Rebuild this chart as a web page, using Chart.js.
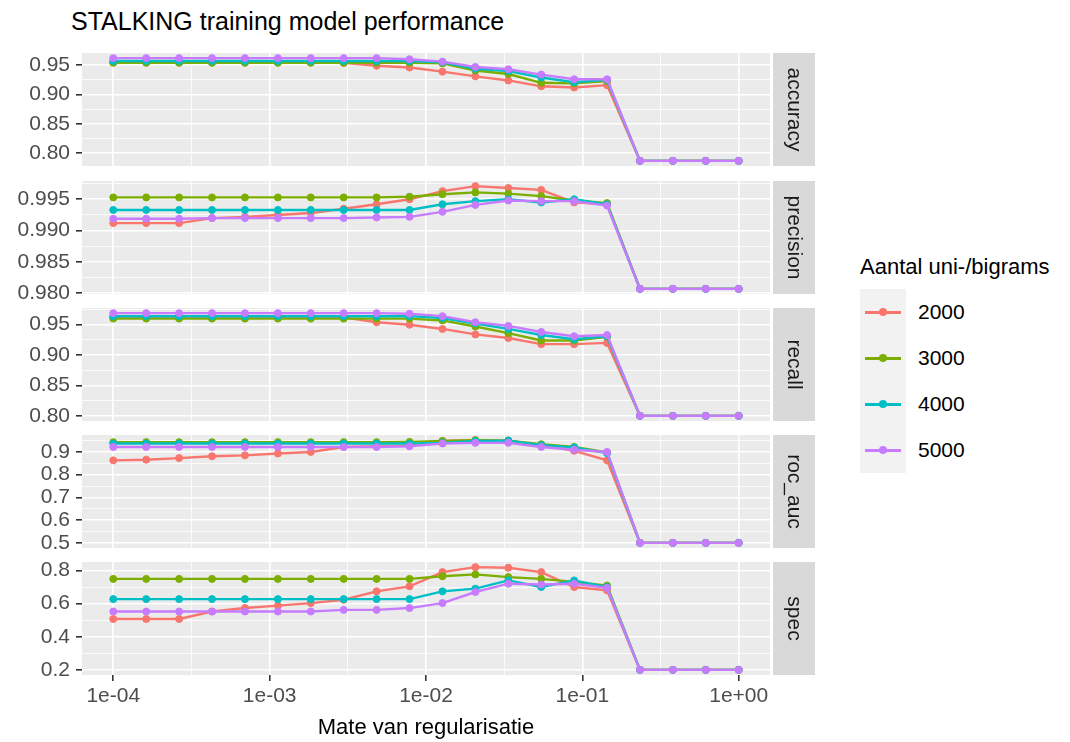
<!DOCTYPE html>
<html>
<head>
<meta charset="utf-8">
<title>STALKING training model performance</title>
<script src="https://cdn.jsdelivr.net/npm/chart.js@4.4.1/dist/chart.umd.min.js"></script>
<style>
  body { margin: 0; background: #fff; font-family: "Liberation Sans", Arial, sans-serif; }
  #wrap { position: relative; width: 1070px; height: 742px; overflow: hidden; background: #fff; }
  #wrap canvas { position: absolute; left: 0; }
  #title { position: absolute; left: 71px; top: 7px; font-size: 25px; color: #000; white-space: nowrap; }
  #legendTitle { position: absolute; left: 860px; top: 254px; font-size: 22px; color: #000; white-space: nowrap; }
  #legendKeys { position: absolute; left: 860px; top: 289px; width: 46px; height: 184px; background: #F2F2F2; }
  .key { position: absolute; left: 0; width: 200px; height: 30px; }
  .key .ln { position: absolute; left: 5px; top: 14px; width: 36px; height: 2.5px; }
  .key .dt { position: absolute; left: 19px; top: 11px; width: 8px; height: 8px; border-radius: 50%; }
  .key .tx { position: absolute; left: 58px; top: 2px; font-size: 21px; line-height: 26px; color: #000; }
</style>
</head>
<body>
<div id="wrap">
  <div id="title">STALKING training model performance</div>
  <div id="legendTitle">Aantal uni-/bigrams</div>
  <div id="legendKeys"></div>
</div>
<script>
// regularisation strengths (x axis, log scale)
const lambdas = [1.000e-4, 1.624e-4, 2.637e-4, 4.281e-4, 6.952e-4, 1.129e-3, 1.833e-3, 2.976e-3,
  4.833e-3, 7.848e-3, 1.274e-2, 2.069e-2, 3.360e-2, 5.456e-2, 8.859e-2, 1.438e-1,
  2.336e-1, 3.793e-1, 6.158e-1, 1.000];
const groups = ['2000', '3000', '4000', '5000'];
const groupColors = ['#F8766D', '#7CAE00', '#00BFC4', '#C77CFF'];
const xTickValues = [1e-4, 1e-3, 1e-2, 1e-1, 1];
const xTickLabels = ['1e-04', '1e-03', '1e-02', '1e-01', '1e+00'];

// rows: 2000, 3000, 4000, 5000
const accuracy = [
  [0.955, 0.955, 0.955, 0.955, 0.955, 0.955, 0.955, 0.954, 0.949, 0.946, 0.939, 0.931, 0.924, 0.914, 0.912, 0.916, 0.787, 0.787, 0.787, 0.787],
  [0.954, 0.954, 0.954, 0.954, 0.954, 0.954, 0.954, 0.954, 0.954, 0.954, 0.953, 0.941, 0.935, 0.920, 0.919, 0.923, 0.787, 0.787, 0.787, 0.787],
  [0.957, 0.957, 0.957, 0.957, 0.957, 0.957, 0.957, 0.957, 0.957, 0.957, 0.955, 0.944, 0.940, 0.929, 0.921, 0.925, 0.787, 0.787, 0.787, 0.787],
  [0.962, 0.962, 0.962, 0.962, 0.962, 0.962, 0.962, 0.962, 0.962, 0.960, 0.956, 0.947, 0.943, 0.934, 0.926, 0.926, 0.787, 0.787, 0.787, 0.787]
];
const precision = [
  [0.9912, 0.9912, 0.9912, 0.9920, 0.9922, 0.9925, 0.9928, 0.9935, 0.9942, 0.9950, 0.9963, 0.9971, 0.9968, 0.9965, 0.9945, 0.9942, 0.9807, 0.9807, 0.9807, 0.9807],
  [0.9953, 0.9953, 0.9953, 0.9953, 0.9953, 0.9953, 0.9953, 0.9953, 0.9953, 0.9954, 0.9958, 0.9961, 0.9959, 0.9955, 0.9948, 0.9944, 0.9807, 0.9807, 0.9807, 0.9807],
  [0.9933, 0.9933, 0.9933, 0.9933, 0.9933, 0.9933, 0.9933, 0.9933, 0.9933, 0.9933, 0.9942, 0.9947, 0.9950, 0.9945, 0.9950, 0.9942, 0.9807, 0.9807, 0.9807, 0.9807],
  [0.9919, 0.9919, 0.9919, 0.9920, 0.9920, 0.9920, 0.9920, 0.9920, 0.9921, 0.9922, 0.9930, 0.9941, 0.9948, 0.9947, 0.9947, 0.9940, 0.9807, 0.9807, 0.9807, 0.9807]
];
const recall = [
  [0.962, 0.962, 0.962, 0.962, 0.962, 0.962, 0.962, 0.962, 0.954, 0.950, 0.943, 0.934, 0.928, 0.918, 0.918, 0.920, 0.800, 0.800, 0.800, 0.800],
  [0.960, 0.960, 0.960, 0.960, 0.960, 0.960, 0.960, 0.960, 0.960, 0.960, 0.957, 0.947, 0.936, 0.924, 0.924, 0.930, 0.800, 0.800, 0.800, 0.800],
  [0.964, 0.964, 0.964, 0.964, 0.964, 0.964, 0.964, 0.964, 0.964, 0.964, 0.961, 0.952, 0.943, 0.933, 0.926, 0.931, 0.800, 0.800, 0.800, 0.800],
  [0.969, 0.969, 0.969, 0.969, 0.969, 0.969, 0.969, 0.969, 0.969, 0.968, 0.964, 0.954, 0.948, 0.938, 0.931, 0.933, 0.800, 0.800, 0.800, 0.800]
];
const rocAuc = [
  [0.863, 0.866, 0.873, 0.881, 0.885, 0.893, 0.900, 0.922, 0.925, 0.928, 0.948, 0.952, 0.950, 0.930, 0.905, 0.863, 0.500, 0.500, 0.500, 0.500],
  [0.943, 0.943, 0.943, 0.943, 0.943, 0.943, 0.943, 0.943, 0.943, 0.944, 0.948, 0.952, 0.950, 0.934, 0.922, 0.898, 0.500, 0.500, 0.500, 0.500],
  [0.937, 0.937, 0.937, 0.937, 0.937, 0.937, 0.937, 0.937, 0.937, 0.937, 0.940, 0.948, 0.950, 0.930, 0.920, 0.895, 0.500, 0.500, 0.500, 0.500],
  [0.922, 0.922, 0.922, 0.922, 0.922, 0.922, 0.922, 0.922, 0.922, 0.925, 0.937, 0.940, 0.940, 0.922, 0.910, 0.900, 0.500, 0.500, 0.500, 0.500]
];
const spec = [
  [0.507, 0.507, 0.507, 0.552, 0.573, 0.588, 0.603, 0.623, 0.674, 0.704, 0.790, 0.820, 0.816, 0.790, 0.700, 0.680, 0.200, 0.200, 0.200, 0.200],
  [0.749, 0.749, 0.749, 0.749, 0.749, 0.749, 0.749, 0.749, 0.749, 0.749, 0.765, 0.776, 0.760, 0.749, 0.731, 0.709, 0.200, 0.200, 0.200, 0.200],
  [0.627, 0.627, 0.627, 0.627, 0.627, 0.627, 0.627, 0.627, 0.627, 0.627, 0.674, 0.690, 0.740, 0.700, 0.740, 0.700, 0.200, 0.200, 0.200, 0.200],
  [0.552, 0.552, 0.552, 0.552, 0.552, 0.552, 0.552, 0.562, 0.562, 0.573, 0.603, 0.670, 0.720, 0.715, 0.720, 0.695, 0.200, 0.200, 0.200, 0.200]
];

const accuracyTicks = ['0.80', '0.85', '0.90', '0.95'];
const precisionTicks = ['0.980', '0.985', '0.990', '0.995'];
const recallTicks = ['0.80', '0.85', '0.90', '0.95'];
const rocAucTicks = ['0.5', '0.6', '0.7', '0.8', '0.9'];
const specTicks = ['0.2', '0.4', '0.6', '0.8'];

const panels = [
  { name: 'accuracy', values: accuracy, ticks: accuracyTicks },
  { name: 'precision', values: precision, ticks: precisionTicks },
  { name: 'recall', values: recall, ticks: recallTicks },
  { name: 'roc_auc', values: rocAuc, ticks: rocAucTicks },
  { name: 'spec', values: spec, ticks: specTicks }
];

// layout
const FONT = '"Liberation Sans", Arial, sans-serif';
const PANEL_TOP = [53, 181, 308, 435, 562];
const PANEL_H = 113;
const OVERHANG = 10;   // room above/below a panel so edge labels are not cut
const AXIS_W = 82;
const PLOT_RIGHT = 770;
const CANVAS_W = 820;
const STRIP_GAP = 3;
const STRIP_W = 42;

// gray panel background + facet strip on the right
const facetPlugin = {
  id: 'facet',
  beforeDraw(chart, args, opts) {
    const ctx = chart.ctx, a = chart.chartArea;
    ctx.save();
    ctx.fillStyle = '#EBEBEB';
    ctx.fillRect(a.left, a.top, a.right - a.left, a.bottom - a.top);
    const sx = a.right + STRIP_GAP;
    ctx.fillStyle = '#D9D9D9';
    ctx.fillRect(sx, a.top, STRIP_W, a.bottom - a.top);
    ctx.translate(sx + STRIP_W / 2, (a.top + a.bottom) / 2);
    ctx.rotate(Math.PI / 2);
    ctx.fillStyle = '#1A1A1A';
    ctx.font = '21px ' + FONT;
    ctx.textAlign = 'center';
    ctx.textBaseline = 'middle';
    ctx.fillText(opts.label, 0, 0);
    ctx.restore();
  }
};

// log x grid: decades are major, half decades minor
const xGrid = [];
for (let e = -4; e <= 0; e++) {
  xGrid.push({ value: Math.pow(10, e), minor: false, text: xTickLabels[e + 4] });
  if (e < 0) xGrid.push({ value: Math.pow(10, e + 0.5), minor: true, text: '' });
}

const gridStyle = {
  color: '#FFFFFF',
  lineWidth: c => (c.tick && c.tick.minor) ? 0.8 : 1.6,
  tickColor: c => (c.tick && c.tick.minor) ? 'rgba(0,0,0,0)' : '#333333',
  tickWidth: 1.6,
  tickLength: 6
};

const wrap = document.getElementById('wrap');

panels.forEach((p, k) => {
  const last = k === panels.length - 1;
  const top = PANEL_TOP[k] - OVERHANG;
  const h = last ? 742 - top : PANEL_H + 2 * OVERHANG;
  const cv = document.createElement('canvas');
  cv.width = CANVAS_W;
  cv.height = h;
  cv.style.top = top + 'px';
  cv.style.width = CANVAS_W + 'px';
  cv.style.height = h + 'px';
  wrap.appendChild(cv);

  const all = p.values.flat();
  const lo = Math.min(...all), hi = Math.max(...all);
  const pad = (hi - lo) * 0.05;
  const yMin = lo - pad, yMax = hi + pad;

  const major = p.ticks.map(Number);
  const step = major[1] - major[0];
  const yGrid = [];
  p.ticks.forEach((t, i) => {
    const v = major[i];
    if (i === 0 && v - step / 2 > yMin) yGrid.push({ value: v - step / 2, minor: true, text: '' });
    yGrid.push({ value: v, minor: false, text: t });
    if (v + step / 2 < yMax) yGrid.push({ value: v + step / 2, minor: true, text: '' });
  });

  new Chart(cv, {
    type: 'line',
    data: {
      datasets: groups.map((g, i) => ({
        label: g,
        data: lambdas.map((x, j) => ({ x: x, y: p.values[i][j] })),
        borderColor: groupColors[i],
        backgroundColor: groupColors[i],
        pointBackgroundColor: groupColors[i],
        pointBorderColor: groupColors[i],
        borderWidth: 2.4,
        pointRadius: 3.5,
        pointBorderWidth: 1,
        pointHoverRadius: 3.5,
        tension: 0,
        order: groups.length - i
      }))
    },
    options: {
      responsive: false,
      animation: false,
      devicePixelRatio: 1,
      events: [],
      layout: { padding: { left: 0, top: OVERHANG, bottom: last ? 0 : OVERHANG, right: CANVAS_W - PLOT_RIGHT } },
      plugins: {
        legend: { display: false },
        tooltip: { enabled: false },
        facet: { label: p.name }
      },
      scales: {
        x: {
          type: 'logarithmic',
          min: Math.pow(10, -4.2),
          max: Math.pow(10, 0.2),
          afterBuildTicks: s => { s.ticks = xGrid.map(t => Object.assign({}, t)); },
          afterFit: s => {
            s.height = last ? h - OVERHANG - PANEL_H : 0;
            s.paddingLeft = 0; s.paddingRight = 0;
          },
          border: { display: false },
          grid: Object.assign({ drawTicks: last }, gridStyle),
          ticks: {
            display: last,
            autoSkip: false,
            maxRotation: 0,
            padding: 3,
            color: '#4D4D4D',
            font: { family: FONT, size: 21 },
            callback: (v, i, ticks) => ticks[i].text
          },
          title: {
            display: last,
            text: 'Mate van regularisatie',
            color: '#000000',
            font: { family: FONT, size: 22 },
            padding: { top: 0, bottom: 1 }
          }
        },
        y: {
          min: yMin,
          max: yMax,
          afterBuildTicks: s => { s.ticks = yGrid.map(t => Object.assign({}, t)); },
          afterFit: s => {
            s.width = AXIS_W;
            s.paddingTop = 0; s.paddingBottom = 0;
          },
          border: { display: false },
          grid: gridStyle,
          ticks: {
            autoSkip: false,
            padding: 6,
            color: '#4D4D4D',
            font: { family: FONT, size: 21 },
            callback: (v, i, ticks) => ticks[i].text
          }
        }
      }
    },
    plugins: [facetPlugin]
  });
});

// legend keys
const keyBox = document.getElementById('legendKeys');
const keyCenters = [23, 69, 115, 161];
groups.forEach((g, i) => {
  const d = document.createElement('div');
  d.className = 'key';
  d.style.top = (keyCenters[i] - 15) + 'px';
  d.innerHTML = '<div class="ln" style="background:' + groupColors[i] + '"></div>' +
    '<div class="dt" style="background:' + groupColors[i] + '"></div>' +
    '<div class="tx">' + g + '</div>';
  keyBox.appendChild(d);
});
</script>
</body>
</html>
